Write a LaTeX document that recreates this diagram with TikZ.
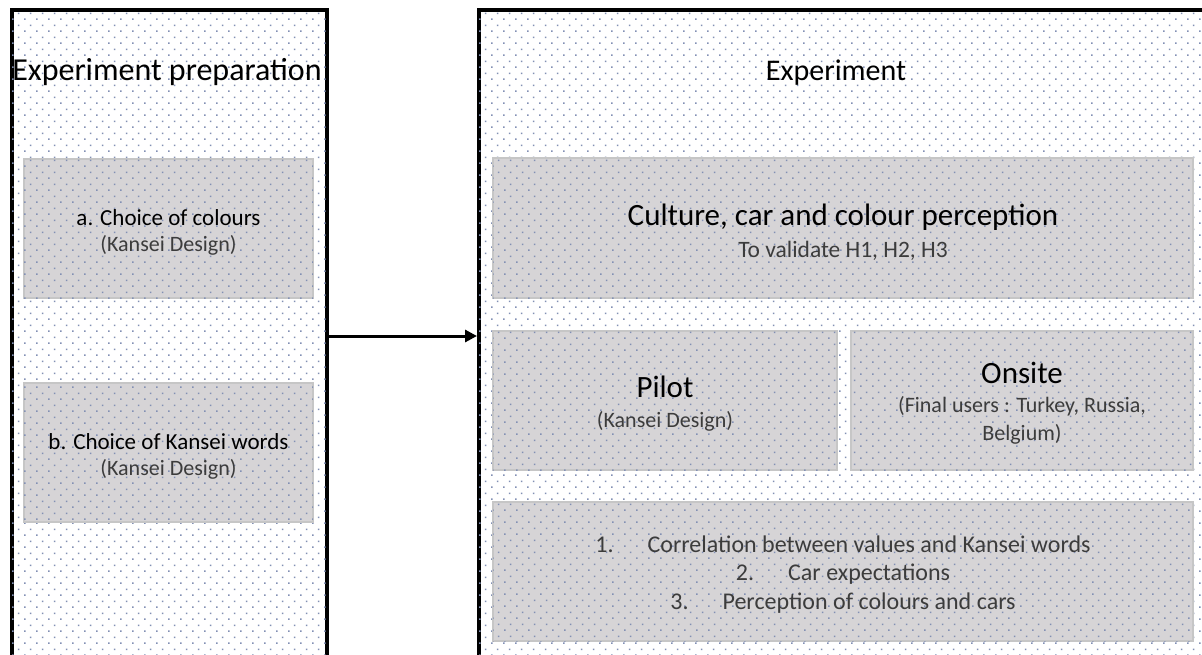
\documentclass[tikz,border=0pt]{standalone}
\usepackage{fontspec}
\setmainfont{Carlito}
\usetikzlibrary{patterns,arrows.meta}

\definecolor{boxfill}{RGB}{214,212,214}
\definecolor{boxedge}{RGB}{198,198,198}
\definecolor{dotcol}{RGB}{130,144,180}
\definecolor{subtext}{RGB}{60,60,60}

% staggered dot grid used as the panel texture
\pgfdeclarepatternformonly{kanseidots}{\pgfpointorigin}{\pgfqpoint{12.3pt}{12.3pt}}{\pgfqpoint{12.3pt}{12.3pt}}{%
  \pgfpathrectangle{\pgfqpoint{0pt}{0pt}}{\pgfqpoint{1.6pt}{1.6pt}}%
  \pgfpathrectangle{\pgfqpoint{6.15pt}{6.15pt}}{\pgfqpoint{1.6pt}{1.6pt}}%
  \pgfusepath{fill}}

\newcommand\fsz[2]{\fontsize{#1}{#2}\selectfont}
% taller first line, so that a centred block sits a little lower in its box
\newcommand\dropby[1]{\rule{0pt}{\dimexpr\fontcharht\font`h+#1\relax}}

\begin{document}
\begin{tikzpicture}[x=1pt,y=-1pt,
  panel/.style={draw=black, line width=4pt, fill=white,
    postaction={pattern=kanseidots, pattern color=dotcol}, inner sep=0pt},
  gbox/.style={draw=boxedge, line width=1.5pt, fill=boxfill,
    postaction={pattern=kanseidots, pattern color=dotcol},
    inner sep=0pt, align=center},
  heading/.style={anchor=base, inner sep=0pt, font=\fsz{32}{38}},
  link/.style={draw=black, line width=3pt, -{Triangle[length=12pt,width=12pt]}}]

\clip (0,0) rectangle (1202,655);

% the two stages
\node[panel, minimum width=315pt, minimum height=720pt] (prep) at (169.5,370) {};
\node[panel, minimum width=761pt, minimum height=720pt] (expt) at (859.5,370) {};

\node[heading] (prephead) at (167,81) {Experiment preparation};
\node[heading, font=\fsz{30}{34}] (expthead) at (836,81) {Experiment};

% preparation steps
\node[gbox, minimum width=289pt, minimum height=139pt, font=\fsz{23}{26}] (colours) at (168.5,228.5)
  {\dropby{7pt}a. Choice of colours\\{\fsz{22}{26}\color{subtext}(Kansei Design)}};
\node[gbox, minimum width=289pt, minimum height=139pt, font=\fsz{23}{26}] (words) at (168.5,452.5)
  {\dropby{7pt}b. Choice of Kansei words\\{\fsz{22}{26}\color{subtext}(Kansei Design)}};

% experiment blocks
\node[gbox, minimum width=700pt, minimum height=140pt, font=\fsz{31}{32.5}] (culture) at (843,228)
  {\dropby{8pt}Culture, car and colour perception\\{\fsz{23.5}{32.5}\color{subtext}To validate H1, H2, H3}};
\node[gbox, minimum width=344pt, minimum height=139pt, font=\fsz{31}{30}] (pilot) at (665,400.5)
  {\dropby{6pt}Pilot\\{\fsz{22}{30}\color{subtext}(Kansei Design)}};
\node[gbox, minimum width=342pt, minimum height=139pt, font=\fsz{31}{28.5}] (onsite) at (1022,400.5)
  {\dropby{6pt}Onsite\\{\fsz{22}{28.5}\color{subtext}(Final users : Turkey, Russia,}\\{\fsz{22}{28.5}\color{subtext}Belgium)}};
\node[gbox, minimum width=700pt, minimum height=139pt, font=\fsz{24}{28.5}, text=subtext] (tasks) at (843,571.5)
  {\dropby{6pt}1.\hspace{34pt}Correlation between values and Kansei words\\
   2.\hspace{34pt}Car expectations\\
   3.\hspace{34pt}Perception of colours and cars};

% preparation feeds the experiment
\coordinate (arrowrow) at (0,336);
\draw[link] (prep.east |- arrowrow) -- (expt.west |- arrowrow);
\end{tikzpicture}
\end{document}
